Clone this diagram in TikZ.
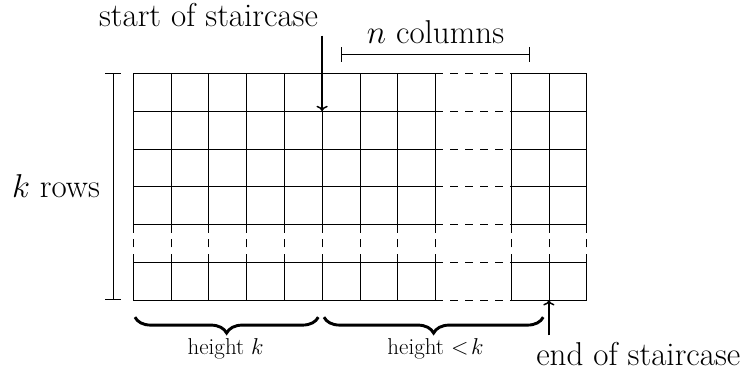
\documentclass[tikz,border=0pt]{standalone}
\usepackage{amsmath}
\usepackage{tikz}
\usetikzlibrary{
  arrows.meta,
  positioning,
  decorations.pathreplacing
}
\definecolor{gridcolor}{RGB}{0, 0, 0}
\definecolor{labelcolor}{RGB}{0, 0, 0}
\tikzset{
gridline/.style={
  draw=gridcolor,
  line width=0.45pt
},
gapline/.style={
  gridline,
  dash pattern=on 6pt off 5.2pt
},
biglabel/.style={
  font=\Huge,
  text=labelcolor,
  inner sep=0pt
},
smalllabel/.style={
  font=\LARGE,
  text=labelcolor,
  inner sep=0pt
},
pointer/.style={
  ->,
  line width=1.1pt,
  draw=labelcolor
},
spanbar/.style={
  {Bar[width=4mm]}-{Bar[width=4mm]},
  line width=0.6pt,
  draw=labelcolor
},
bracebelow/.style={
  decorate,
  decoration={brace, mirror, amplitude=4.2mm},
  line width=2.2pt
}
}
\begin{document}
\begin{tikzpicture}
  \useasboundingbox (-3.52,-1.93) rectangle (16.32,7.94);

  % left block of cells and right block, rows 1--2 left open
  \foreach \x in {0,...,8,10,11,12} {
    \draw[gridline] (\x,0) -- (\x,1);
    \draw[gapline]  (\x,1) -- (\x,2);
    \draw[gridline] (\x,2) -- (\x,6);
  }
  \foreach \y in {0,...,6} {
    \draw[gridline] (0,\y) -- (8,\y);
    \draw[gapline]  (8,\y) -- (10,\y);
    \draw[gridline] (10,\y) -- (12,\y);
  }

  % k rows
  \coordinate (rowsbot) at (-0.53,0);
  \coordinate (rowstop) at (-0.53,6);
  \draw[spanbar] (rowsbot) -- (rowstop);
  \node[biglabel, anchor=east] (rows) at (-0.87,3.02) {$k$ rows};

  % n columns
  \coordinate (colsleft) at (5.5,6.5);
  \coordinate (colsright) at (10.5,6.5);
  \draw[spanbar] (colsleft) -- (colsright);
  \node[biglabel, anchor=base] (cols) at (8,6.8) {$n$ columns};

  % start and end of the staircase
  \coordinate (startcorner) at (5,5);
  \coordinate (startfrom) at (5,7);
  \node[biglabel, anchor=east] (starttext) at (4.9,7.53) {start of staircase};
  \draw[pointer] (startfrom) -- (startcorner);

  \coordinate (endcorner) at (11,0);
  \coordinate (endfrom) at (11,-0.93);
  \node[biglabel, anchor=base west] (endtext) at (10.66,-1.72) {end of staircase};
  \draw[pointer] (endfrom) -- (endcorner);

  % braces
  \coordinate (fullL) at (0.05,-0.45);
  \coordinate (fullR) at (4.9,-0.45);
  \coordinate (partL) at (5.05,-0.45);
  \coordinate (partR) at (10.85,-0.45);
  \draw[bracebelow] (fullL) -- (fullR);
  \draw[bracebelow] (partL) -- (partR);
  \node[smalllabel, anchor=base] (fullh) at (2.45,-1.43) {height $k$};
  \node[smalllabel, anchor=base] (parth) at (8.0,-1.43) {height $<\!k$};
\end{tikzpicture}
\end{document}
